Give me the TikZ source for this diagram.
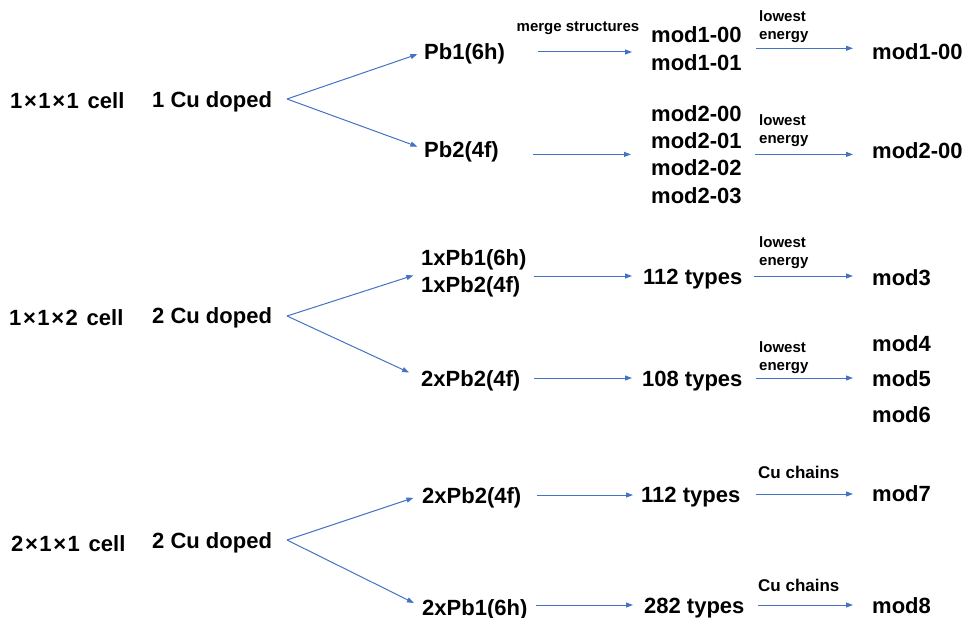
\documentclass[tikz,border=0pt]{standalone}
\usepackage{fontspec}
\setmainfont{Liberation Sans}
\usetikzlibrary{arrows.meta}
\definecolor{arrblue}{HTML}{4472C4}
\newcommand{\tms}{\kern1.6pt×\kern1.6pt}
\begin{document}
\begin{tikzpicture}[x=1pt,y=-1pt,
  big/.style={font=\bfseries\fontsize{22}{26}\selectfont, inner sep=0pt, text height=16pt, text depth=0pt, anchor=base west},
  stack/.style={font=\bfseries\fontsize{22}{#1}\selectfont, inner sep=0pt, align=left, anchor=north west},
  lbl/.style={font=\bfseries\fontsize{15}{18}\selectfont, inner sep=0pt, align=left, anchor=north west},
  cu/.style={font=\bfseries\fontsize{17}{20}\selectfont, inner sep=0pt, anchor=base west},
  arr/.style={draw=arrblue, line width=1pt, -{Triangle[length=7pt,width=5pt]}}
]
\useasboundingbox (0,0) rectangle (967,618);

% ---------- group 1 ----------
\node[big] (c1) at (10,108) {1\tms1\tms1\kern2.6pt{} cell};
\node[big] (d1) at (152,107) {1 Cu doped};
\coordinate (b1) at (287,99);
\node[big] (p11) at (424,60) {Pb1(6h)};
\node[big] (p12) at (424,157) {Pb2(4f)};
\node[font=\bfseries\fontsize{15}{18}\selectfont, inner sep=0pt, anchor=base] (ms) at (578,32) {merge structures};
\node[stack=28] (m1) at (651,26) {mod1-00\\mod1-01};
\node[stack=27.4] (m2) at (651,105) {mod2-00\\mod2-01\\mod2-02\\mod2-03};
\node[lbl] (le1) at (759,10) {lowest\\energy};
\node[lbl] (le2) at (759,114) {lowest\\energy};
\node[big] (r1) at (872,60) {mod1-00};
\node[big] (r2) at (872,158) {mod2-00};

\draw[arr, shorten >=7pt] (b1) -- (p11.west);
\draw[arr, shorten >=7pt] (b1) -- (p12.west);
\draw[arr, shorten <=33pt, shorten >=19pt] (p11.east) -- (p11.east -| m1.west);
\draw[arr, shorten <=34pt, shorten >=20pt] (m2.west -| p12.east) -- (m2.west);
\draw[arr, shorten <=14pt, shorten >=19pt] (m1.east) -- (m1.east -| r1.west);
\draw[arr, shorten <=13pt, shorten >=19pt] (m2.east) -- (m2.east -| r2.west);

% ---------- group 2 ----------
\node[big] (c2) at (9,325) {1\tms1\tms2\kern2.6pt{} cell};
\node[big] (d2) at (152,323) {2 Cu doped};
\coordinate (b2) at (287,316);
\node[stack=27] (p21) at (421,249) {1xPb1(6h)\\1xPb2(4f)};
\node[big] (p22) at (421,386) {2xPb2(4f)};
\node[big] (t21) at (643,284) {112 types};
\node[big] (t22) at (642,386) {108 types};
\node[lbl] (le3) at (759,236) {lowest\\energy};
\node[lbl] (le4) at (759,341) {lowest\\energy};
\node[big] (r3) at (872,285) {mod3};
\node[stack=35.5] (r4) at (872,335) {mod4\\mod5\\mod6};

\draw[arr, shorten >=8pt] (b2) -- (p21.west);
\draw[arr, shorten >=13pt] (b2) -- (p22.west);
\draw[arr, shorten <=7pt, shorten >=11pt] (t21.west -| p21.east) -- (t21.west);
\draw[arr, shorten <=14pt, shorten >=10pt] (p22.east) -- (p22.east -| t22.west);
\draw[arr, shorten <=12pt, shorten >=19pt] (t21.east) -- (t21.east -| r3.west);
\draw[arr, shorten <=13pt, shorten >=19pt] (t22.east) -- (t22.east -| r4.west);

% ---------- group 3 ----------
\node[big] (c3) at (11,551) {2\tms1\tms1\kern2.6pt{} cell};
\node[big] (d3) at (152,548) {2 Cu doped};
\coordinate (b3) at (287,540);
\node[big] (p31) at (422,503) {2xPb2(4f)};
\node[big] (p32) at (422,615) {2xPb1(6h)};
\node[big] (t31) at (641,502) {112 types};
\node[big] (t32) at (644,613) {282 types};
\node[cu] (cc1) at (758,478) {Cu chains};
\node[cu] (cc2) at (758,591) {Cu chains};
\node[big] (r7) at (872,501) {mod7};
\node[big] (r8) at (872,613) {mod8};

\draw[arr, shorten >=9pt] (b3) -- (p31.west);
\draw[arr, shorten >=9pt] (b3) -- (p32.west);
\draw[arr, shorten <=16pt, shorten >=8pt] (p31.east) -- (p31.east -| t31.west);
\draw[arr, shorten <=8pt, shorten >=11pt] (t32.west -| p32.east) -- (t32.west);
\draw[arr, shorten <=16pt, shorten >=19pt] (t31.east) -- (t31.east -| r7.west);
\draw[arr, shorten <=13pt, shorten >=19pt] (t32.east) -- (t32.east -| r8.west);
\end{tikzpicture}
\end{document}
